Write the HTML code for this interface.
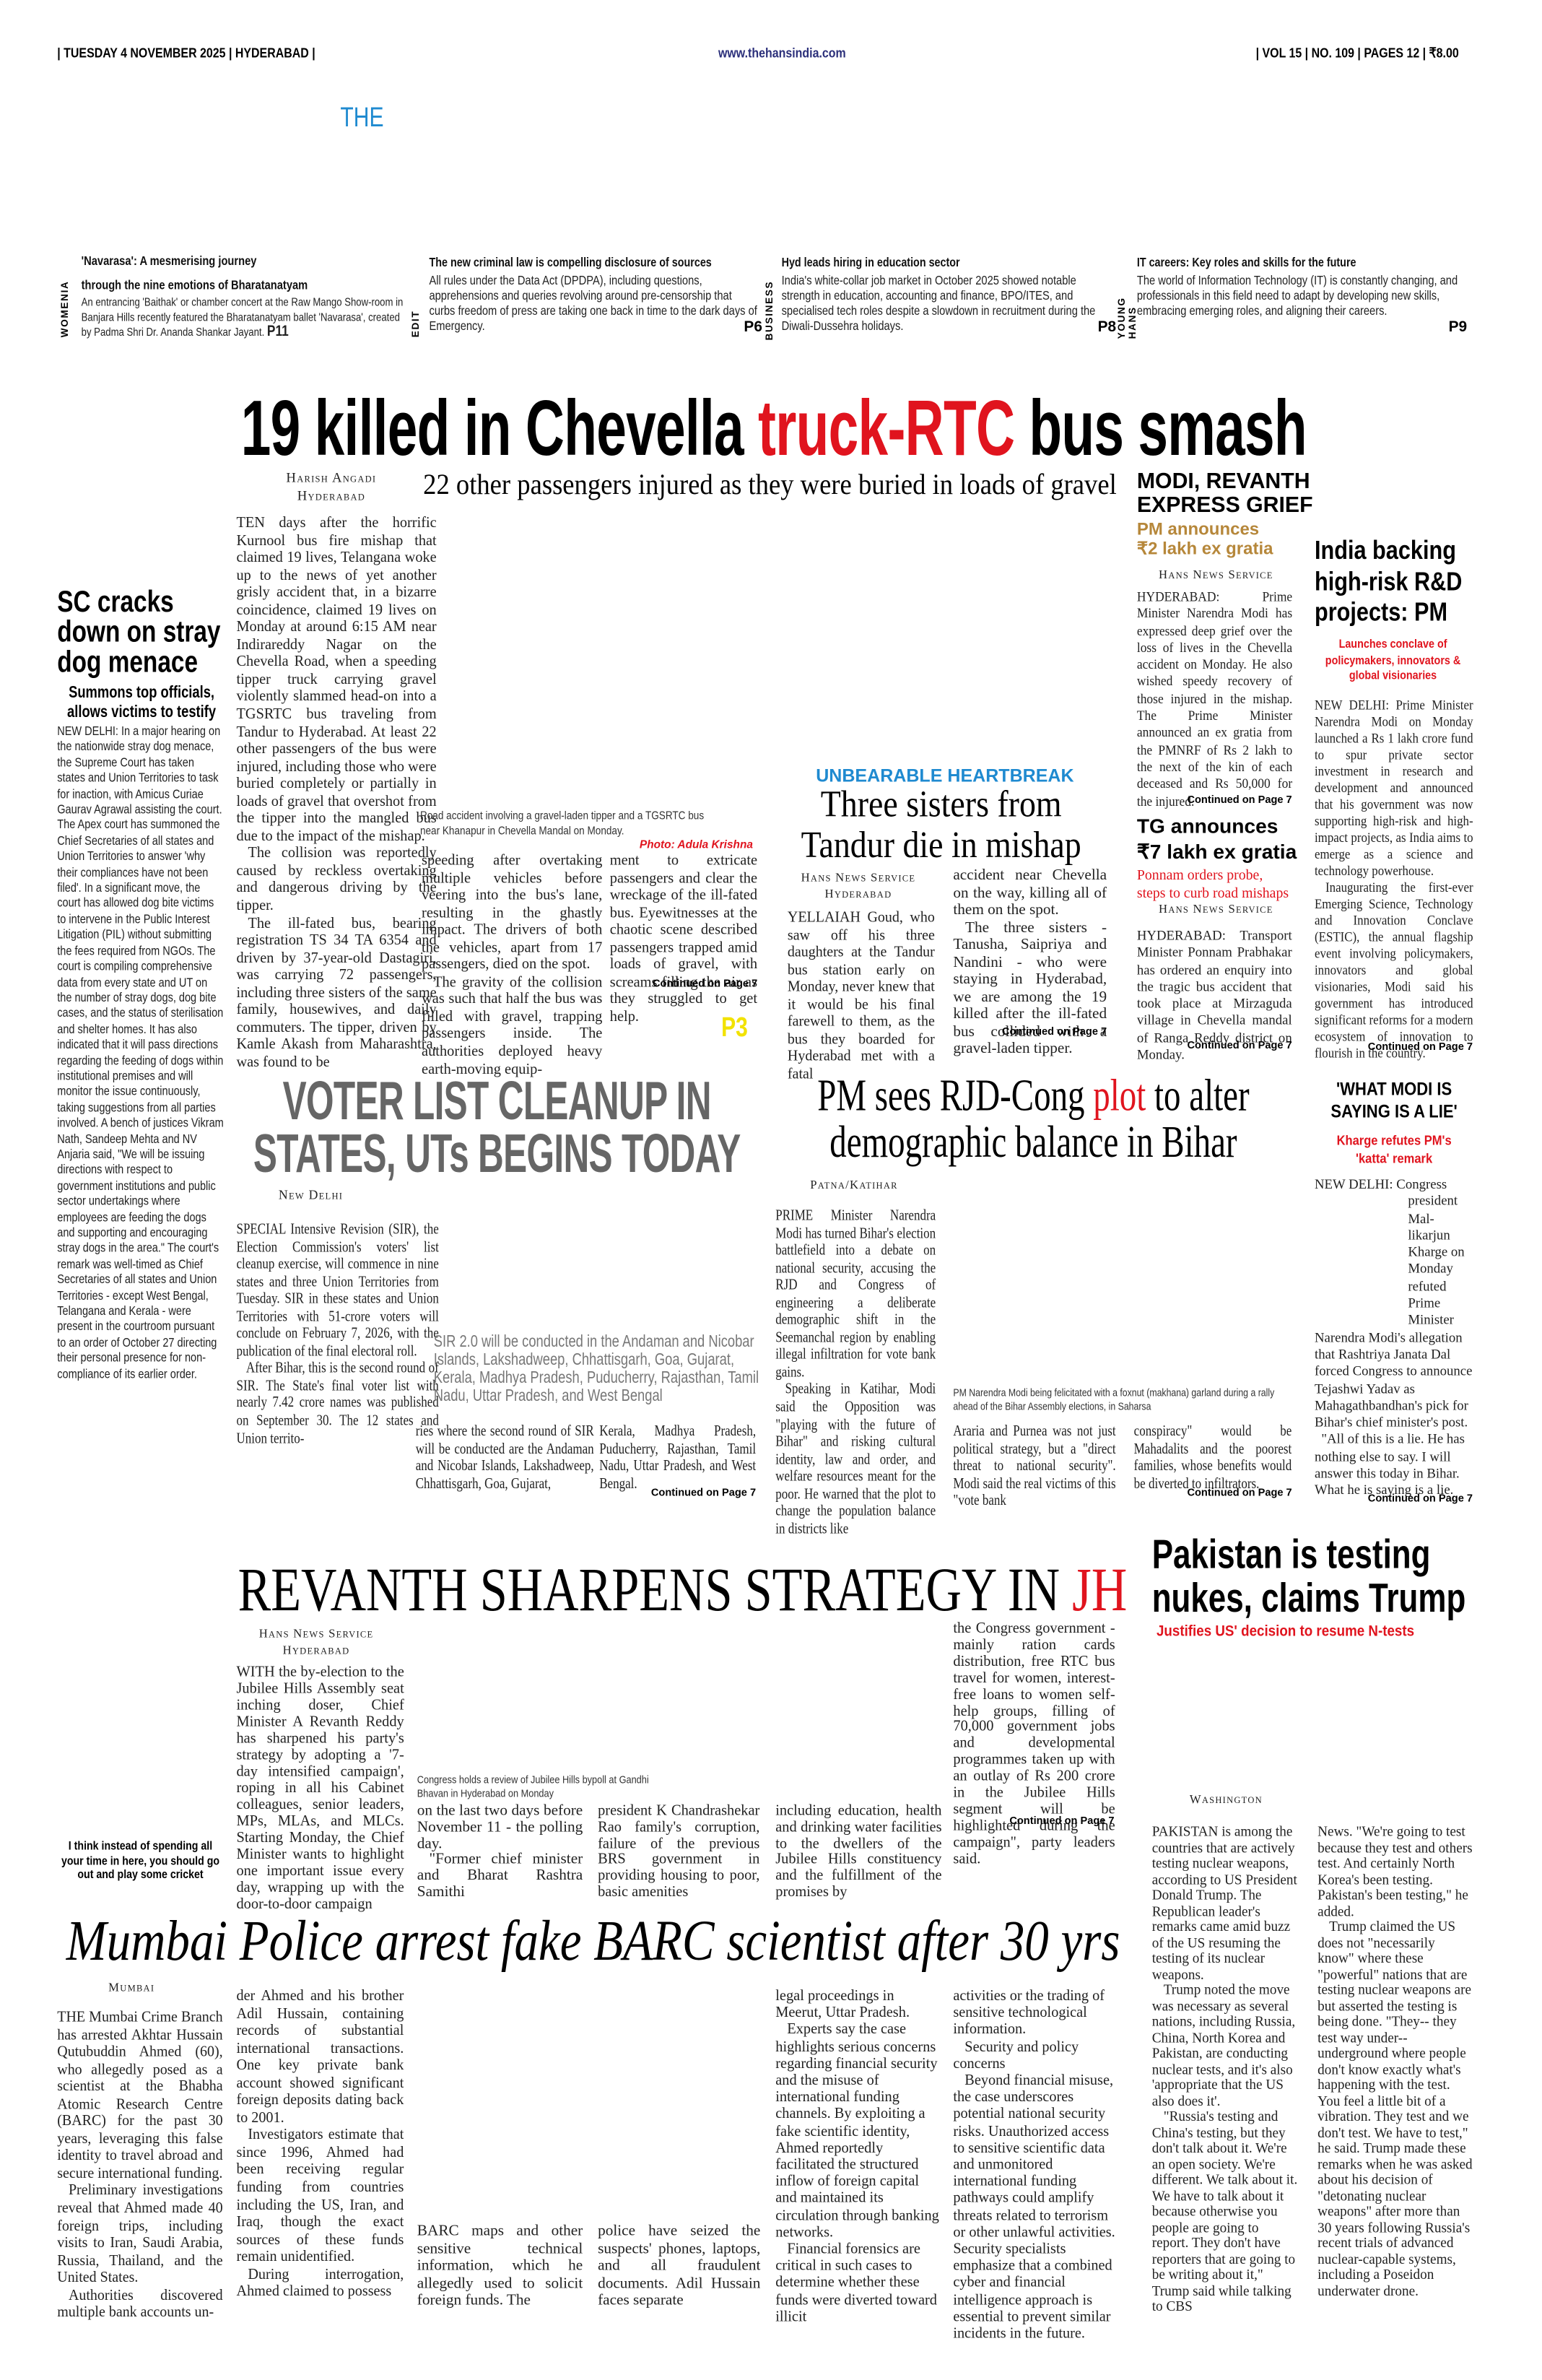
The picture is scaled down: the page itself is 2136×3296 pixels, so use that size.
<!DOCTYPE html>
<html><head><meta charset="utf-8">
<style>
html,body{margin:0;padding:0;background:#fff;}
body{width:2136px;height:3295px;overflow:hidden;position:relative;}
#w{position:absolute;left:0;top:0;width:1024px;height:1580px;transform:scale(2.0859);transform-origin:0 0;}
.a{position:absolute;margin:0;transform-origin:0 0;}
.s{font-family:"Liberation Serif",serif;font-size:10.2px;line-height:11.55px;text-align:justify;color:#222;}
.n{font-family:"Liberation Sans",sans-serif;}
.hn{font-family:"Liberation Sans",sans-serif;font-weight:bold;}
.sc{font-family:"Liberation Serif",serif;font-variant:small-caps;font-size:9px;letter-spacing:.6px;color:#222;text-align:center;}
.cont{font-family:"Liberation Sans",sans-serif;font-weight:bold;font-size:7px;text-align:right;}
.cap{font-family:"Liberation Sans",sans-serif;font-size:8px;line-height:9.5px;color:#333;}
.vt{position:absolute;writing-mode:vertical-rl;transform:rotate(180deg);font-family:"Liberation Sans",sans-serif;font-weight:bold;font-size:6.5px;letter-spacing:.8px;}
.tz{font-family:"Liberation Sans",sans-serif;font-size:8.4px;line-height:10px;color:#222;}
.tzh{font-family:"Liberation Sans",sans-serif;font-weight:bold;font-size:8.6px;line-height:13px;color:#111;}
p{margin:0}
.ind{text-indent:8px}
.r9{font-size:9px;line-height:11.3px;}
</style></head><body><div id="w">

<div class="a hn" style="left:38px;top:30px;font-size:9px;transform:scaleX(.85);">| TUESDAY 4 NOVEMBER 2025 | HYDERABAD |</div>
<div class="a hn" style="left:477px;top:30px;font-size:9px;color:#2b2f7a;transform:scaleX(.85);">www.thehansindia.com</div>
<div class="a hn" style="left:834px;top:30px;font-size:9px;transform:scaleX(.85);">| VOL 15 | NO. 109 | PAGES 12 | ₹8.00</div>
<div class="a n" style="left:226px;top:68px;font-size:18px;color:#1f8ad0;transform:scaleX(.8);">THE</div>

<!-- teasers -->
<div class="vt" style="left:40px;top:186px;height:38px;">WOMENIA</div>
<div class="a tzh" style="left:54px;top:165px;width:268px;line-height:16px;transform:scaleX(.82);">'Navarasa': A mesmerising journey<br>through the nine emotions of Bharatanatyam</div>
<div class="a tz" style="left:54px;top:196px;width:265px;font-size:7.6px;transform:scaleX(.83);">An entrancing 'Baithak' or chamber concert at the Raw Mango Show-room in Banjara Hills recently featured the Bharatanatyam ballet 'Navarasa', created by Padma Shri Dr. Ananda Shankar Jayant. <b style="font-size:10px">P11</b></div>
<div class="vt" style="left:273px;top:200px;height:24px;">EDIT</div>
<div class="a tzh" style="left:285px;top:168px;width:280px;transform:scaleX(.8);">The new criminal law is compelling disclosure of sources</div>
<div class="a tz" style="left:285px;top:181px;width:262px;transform:scaleX(.84);">All rules under the Data Act (DPDPA), including questions, apprehensions and queries revolving around pre-censorship that curbs freedom of press are taking one back in time to the dark days of Emergency.</div>
<div class="a hn" style="left:494px;top:212px;font-size:10px;">P6</div>
<div class="vt" style="left:508px;top:186px;height:40px;">BUSINESS</div>
<div class="a tzh" style="left:519px;top:168px;width:280px;transform:scaleX(.8);">Hyd leads hiring in education sector</div>
<div class="a tz" style="left:519px;top:181px;width:262px;transform:scaleX(.84);">India's white-collar job market in October 2025 showed notable strength in education, accounting and finance, BPO/ITES, and specialised tech roles despite a slowdown in recruitment during the Diwali-Dussehra holidays.</div>
<div class="a hn" style="left:729px;top:212px;font-size:10px;">P8</div>
<div class="vt" style="left:742px;top:175px;height:50px;">YOUNG HANS</div>
<div class="a tzh" style="left:755px;top:168px;width:280px;transform:scaleX(.8);">IT careers: Key roles and skills for the future</div>
<div class="a tz" style="left:755px;top:181px;width:264px;transform:scaleX(.84);">The world of Information Technology (IT) is constantly changing, and professionals in this field need to adapt by developing new skills, embracing emerging roles, and aligning their careers.</div>
<div class="a hn" style="left:962px;top:212px;font-size:10px;">P9</div>

<!-- main headline -->
<div class="a hn" style="left:160px;top:255px;font-size:52px;line-height:60px;white-space:nowrap;letter-spacing:-.5px;transform:scaleX(.69);">19 killed in Chevella <span style="color:#e0141e">truck-RTC</span> bus smash</div>
<div class="a sc" style="left:150px;top:311px;width:140px;line-height:12px;">Harish Angadi<br>Hyderabad</div>
<div class="a" style="left:281px;top:312px;font-size:19.5px;white-space:nowrap;font-family:'Liberation Serif',serif;transform:scaleX(.9);">22 other passengers injured as they were buried in loads of gravel</div>

<div class="a s" style="left:157px;top:342px;width:139px;transform:scaleX(.956);">
<p>TEN days after the horrific Kurnool bus fire mishap that claimed 19 lives, Telangana woke up to the news of yet another grisly accident that, in a bizarre coincidence, claimed 19 lives on Monday at around 6:15 AM near Indirareddy Nagar on the Chevella Road, when a speeding tipper truck carrying gravel violently slammed head-on into a TGSRTC bus traveling from Tandur to Hyderabad. At least 22 other passengers of the bus were injured, including those who were buried completely or partially in loads of gravel that overshot from the tipper into the mangled bus due to the impact of the mishap.</p>
<p class="ind">The collision was reportedly caused by reckless overtaking and dangerous driving by the tipper.</p>
<p class="ind">The ill-fated bus, bearing registration TS 34 TA 6354 and driven by 37-year-old Dastagiri, was carrying 72 passengers, including three sisters of the same family, housewives, and daily commuters. The tipper, driven by Kamle Akash from Maharashtra, was found to be</p></div>

<div class="a cap" style="left:279px;top:537px;width:228px;font-size:7.4px;transform:scaleX(.88);">Road accident involving a gravel-laden tipper and a TGSRTC bus near Khanapur in Chevella Mandal on Monday.</div>
<div class="a" style="left:400px;top:556px;width:100px;text-align:right;font-family:'Liberation Sans',sans-serif;font-weight:bold;font-style:italic;font-size:7.4px;color:#e0141e;">Photo: Adula Krishna</div>

<div class="a s" style="left:280px;top:566px;width:125px;transform:scaleX(.96);">speeding after overtaking multiple vehicles before veering into the bus's lane, resulting in the ghastly impact. The drivers of both the vehicles, apart from 17 passengers, died on the spot.<p class="ind">The gravity of the collision was such that half the bus was filled with gravel, trapping passengers inside. The authorities deployed heavy earth-moving equip-</p></div>
<div class="a s" style="left:405px;top:566px;width:102px;transform:scaleX(.96);">ment to extricate passengers and clear the wreckage of the ill-fated bus. Eyewitnesses at the chaotic scene described passengers trapped amid loads of gravel, with screams filling the air as they struggled to get help.</div>
<div class="a cont" style="left:403px;top:650px;width:100px;">Continued on Page 7</div>
<div class="a hn" style="left:479px;top:672px;font-size:18px;color:#f2e200;transform:scaleX(.8);">P3</div>

<!-- SC column -->
<div class="a hn" style="left:38px;top:390px;font-size:20px;line-height:20px;width:138px;transform:scaleX(.8);">SC cracks down on stray dog menace</div>
<div class="a hn" style="left:40px;top:454px;font-size:11px;line-height:12.5px;width:135px;text-align:center;transform:scaleX(.8);">Summons top officials, allows victims to testify</div>
<div class="a n" style="left:38px;top:481px;width:130px;font-size:8.2px;line-height:10.4px;color:#222;transform:scaleX(.85);">NEW DELHI: In a major hearing on the nationwide stray dog menace, the Supreme Court has taken states and Union Territories to task for inaction, with Amicus Curiae Gaurav Agrawal assisting the court. The Apex court has summoned the Chief Secretaries of all states and Union Territories to answer 'why their compliances have not been filed'. In a significant move, the court has allowed dog bite victims to intervene in the Public Interest Litigation (PIL) without submitting the fees required from NGOs. The court is compiling comprehensive data from every state and UT on the number of stray dogs, dog bite cases, and the status of sterilisation and shelter homes. It has also indicated that it will pass directions regarding the feeding of dogs within institutional premises and will monitor the issue continuously, taking suggestions from all parties involved. A bench of justices Vikram Nath, Sandeep Mehta and NV Anjaria said, "We will be issuing directions with respect to government institutions and public sector undertakings where employees are feeding the dogs and supporting and encouraging stray dogs in the area." The court's remark was well-timed as Chief Secretaries of all states and Union Territories - except West Bengal, Telangana and Kerala - were present in the courtroom pursuant to an order of October 27 directing their personal presence for non-compliance of its earlier order.</div>

<!-- Modi Revanth -->
<div class="a" style="left:755px;top:312px;font-family:'Liberation Sans',sans-serif;font-weight:bold;font-size:14.5px;line-height:16px;">MODI, REVANTH<br>EXPRESS GRIEF</div>
<div class="a" style="left:755px;top:346px;font-family:'Liberation Sans',sans-serif;font-weight:bold;font-size:11.5px;line-height:13px;color:#b6873a;">PM announces<br>₹2 lakh ex gratia</div>
<div class="a sc" style="left:755px;top:377px;width:105px;font-size:8px;">Hans News Service</div>
<div class="a s r9" style="left:755px;top:391px;width:111px;transform:scaleX(.93);">HYDERABAD: Prime Minister Narendra Modi has expressed deep grief over the loss of lives in the Chevella accident on Monday. He also wished speedy recovery of those injured in the mishap. The Prime Minister announced an ex gratia from the PMNRF of Rs 2 lakh to the next of the kin of each deceased and Rs 50,000 for the injured.</div>
<div class="a cont" style="left:755px;top:528px;width:103px;">Continued on Page 7</div>
<div class="a" style="left:755px;top:540px;font-family:'Liberation Sans',sans-serif;font-weight:bold;font-size:13.5px;line-height:17px;">TG announces<br>₹7 lakh ex gratia</div>
<div class="a" style="left:755px;top:577px;font-family:'Liberation Serif',serif;font-size:9.5px;line-height:11.5px;color:#e0141e;">Ponnam orders probe,<br>steps to curb road mishaps</div>
<div class="a sc" style="left:755px;top:599px;width:105px;font-size:8px;">Hans News Service</div>
<div class="a s r9" style="left:755px;top:616px;width:103px;">HYDERABAD: Transport Minister Ponnam Prabhakar has ordered an enquiry into the tragic bus accident that took place at Mirzaguda village in Chevella mandal of Ranga Reddy district on Monday.</div>
<div class="a cont" style="left:755px;top:691px;width:103px;">Continued on Page 7</div>

<!-- India backing -->
<div class="a" style="left:873px;top:355px;font-family:'Liberation Sans',sans-serif;font-weight:bold;font-size:17.5px;line-height:20.5px;width:128px;transform:scaleX(.84);">India backing high-risk R&amp;D projects: PM</div>
<div class="a" style="left:870px;top:423px;width:128px;text-align:center;font-family:'Liberation Sans',sans-serif;font-weight:bold;font-size:8px;line-height:10.5px;color:#e0141e;transform:scaleX(.86);">Launches conclave of policymakers, innovators &amp; global visionaries</div>
<div class="a s r9" style="left:873px;top:463px;width:117px;line-height:11px;transform:scaleX(.9);">NEW DELHI: Prime Minister Narendra Modi on Monday launched a Rs 1 lakh crore fund to spur private sector investment in research and development and announced that his government was now supporting high-risk and high-impact projects, as India aims to emerge as a science and technology powerhouse.<p class="ind">Inaugurating the first-ever Emerging Science, Technology and Innovation Conclave (ESTIC), the annual flagship event involving policymakers, innovators and global visionaries, Modi said his government has introduced significant reforms for a modern ecosystem of innovation to flourish in the country.</p></div>
<div class="a cont" style="left:873px;top:692px;width:105px;">Continued on Page 7</div>

<!-- Three sisters -->
<div class="a" style="left:520px;top:508px;width:215px;text-align:center;font-family:'Liberation Sans',sans-serif;font-weight:bold;font-size:12px;color:#1f8ad0;">UNBEARABLE HEARTBREAK</div>
<div class="a" style="left:515px;top:521px;width:250px;text-align:center;font-family:'Liberation Serif',serif;font-size:25px;line-height:27px;transform:scaleX(.88);">Three sisters from<br>Tandur die in mishap</div>
<div class="a sc" style="left:520px;top:577px;width:100px;font-size:8px;line-height:11px;">Hans News Service<br>Hyderabad</div>
<div class="a s" style="left:523px;top:604px;width:104px;transform:scaleX(.94);">YELLAIAH Goud, who saw off his three daughters at the Tandur bus station early on Monday, never knew that it would be his final farewell to them, as the bus they boarded for Hyderabad met with a fatal</div>
<div class="a s" style="left:633px;top:576px;width:102px;">accident near Chevella on the way, killing all of them on the spot.<p class="ind">The three sisters - Tanusha, Saipriya and Nandini - who were staying in Hyderabad, we are among the 19 killed after the ill-fated bus collided with a gravel-laden tipper.</p></div>
<div class="a cont" style="left:633px;top:682px;width:102px;">Continued on Page 7</div>

<!-- Voter list -->
<div class="a hn" style="left:160px;top:713px;width:515px;text-align:center;font-size:36px;line-height:35px;color:#666;transform:scaleX(.66);letter-spacing:-.5px;">VOTER LIST CLEANUP IN<br>STATES, UTs BEGINS TODAY</div>
<div class="a sc" style="left:185px;top:788px;font-size:8.5px;">New Delhi</div>
<div class="a s" style="left:157px;top:811px;width:168px;transform:scaleX(.8);"><p>SPECIAL Intensive Revision (SIR), the Election Commission's voters' list cleanup exercise, will commence in nine states and three Union Territories from Tuesday. SIR in these states and Union Territories with 51-crore voters will conclude on February 7, 2026, with the publication of the final electoral roll.</p><p class="ind">After Bihar, this is the second round of SIR. The State's final voter list with nearly 7.42 crore names was published on September 30. The 12 states and Union territo-</p></div>
<div class="a n" style="left:288px;top:885px;width:270px;font-size:11px;line-height:12px;color:#777;transform:scaleX(.8);">SIR 2.0 will be conducted in the Andaman and Nicobar Islands, Lakshadweep, Chhattisgarh, Goa, Gujarat, Kerala, Madhya Pradesh, Puducherry, Rajasthan, Tamil Nadu, Uttar Pradesh, and West Bengal</div>
<div class="a s" style="left:276px;top:945px;width:148px;transform:scaleX(.8);">ries where the second round of SIR will be conducted are the Andaman and Nicobar Islands, Lakshadweep, Chhattisgarh, Goa, Gujarat,</div>
<div class="a s" style="left:398px;top:945px;width:130px;transform:scaleX(.8);">Kerala, Madhya Pradesh, Puducherry, Rajasthan, Tamil Nadu, Uttar Pradesh, and West Bengal.</div>
<div class="a cont" style="left:398px;top:988px;width:104px;">Continued on Page 7</div>

<!-- PM sees -->
<div class="a" style="left:510px;top:712px;width:470px;text-align:center;font-family:'Liberation Serif',serif;font-size:30px;line-height:31px;transform:scaleX(.75);">PM sees RJD-Cong <span style="color:#e0141e">plot</span> to alter demographic balance in Bihar</div>
<div class="a sc" style="left:538px;top:782px;font-size:8px;">Patna/Katihar</div>
<div class="a s" style="left:515px;top:802px;width:133px;transform:scaleX(.8);"><p>PRIME Minister Narendra Modi has turned Bihar's election battlefield into a debate on national security, accusing the RJD and Congress of engineering a deliberate demographic shift in the Seemanchal region by enabling illegal infiltration for vote bank gains.</p><p class="ind">Speaking in Katihar, Modi said the Opposition was "playing with the future of Bihar" and risking cultural identity, law and order, and welfare resources meant for the poor. He warned that the plot to change the population balance in districts like</p></div>
<div class="a cap" style="left:633px;top:920px;width:272px;font-size:7.2px;line-height:9px;transform:scaleX(.82);">PM Narendra Modi being felicitated with a foxnut (makhana) garland during a rally ahead of the Bihar Assembly elections, in Saharsa</div>
<div class="a s" style="left:633px;top:945px;width:135px;transform:scaleX(.8);">Araria and Purnea was not just political strategy, but a "direct threat to national security". Modi said the real victims of this "vote bank</div>
<div class="a s" style="left:753px;top:945px;width:131px;transform:scaleX(.8);">conspiracy" would be Mahadalits and the poorest families, whose benefits would be diverted to infiltrators.</div>
<div class="a cont" style="left:753px;top:988px;width:105px;">Continued on Page 7</div>

<!-- What Modi -->
<div class="a" style="left:873px;top:716px;width:120px;text-align:center;font-family:'Liberation Sans',sans-serif;font-weight:bold;font-size:12px;line-height:15px;transform:scaleX(.88);">'WHAT MODI IS<br>SAYING IS A LIE'</div>
<div class="a" style="left:873px;top:752px;width:120px;text-align:center;font-family:'Liberation Sans',sans-serif;font-weight:bold;font-size:9px;line-height:11.5px;color:#e0141e;transform:scaleX(.88);">Kharge refutes PM's<br>'katta' remark</div>
<div class="a s r9" style="left:873px;top:781px;width:105px;text-align:left;">NEW DELHI: Congress<br><span style="padding-left:62px">president</span><br><span style="padding-left:62px">Mal-</span><br><span style="padding-left:62px">likarjun</span><br><span style="padding-left:62px">Kharge on</span><br><span style="padding-left:62px">Monday</span><br><span style="padding-left:62px">refuted</span><br><span style="padding-left:62px">Prime</span><br><span style="padding-left:62px">Minister</span><br>Narendra Modi's allegation that Rashtriya Janata Dal forced Congress to announce Tejashwi Yadav as Mahagathbandhan's pick for Bihar's chief minister's post.<br>&nbsp;&nbsp;"All of this is a lie. He has nothing else to say. I will answer this today in Bihar. What he is saying is a lie.</div>
<div class="a cont" style="left:873px;top:992px;width:105px;">Continued on Page 7</div>

<!-- Revanth -->
<div class="a" style="left:158px;top:1030px;font-family:'Liberation Serif',serif;font-size:41px;line-height:50px;white-space:nowrap;transform:scaleX(.8);">REVANTH SHARPENS STRATEGY IN <span style="color:#e0141e">JH</span></div>
<div class="a sc" style="left:160px;top:1079px;width:100px;font-size:8px;line-height:11px;">Hans News Service<br>Hyderabad</div>
<div class="a s" style="left:157px;top:1105px;width:116px;line-height:11px;transform:scaleX(.96);">WITH the by-election to the Jubilee Hills Assembly seat inching doser, Chief Minister A Revanth Reddy has sharpened his party's strategy by adopting a '7-day intensified campaign', roping in all his Cabinet colleagues, senior leaders, MPs, MLAs, and MLCs. Starting Monday, the Chief Minister wants to highlight one important issue every day, wrapping up with the door-to-door campaign</div>
<div class="a cap" style="left:277px;top:1177px;width:200px;font-size:7.2px;line-height:9px;transform:scaleX(.85);">Congress holds a review of Jubilee Hills bypoll at Gandhi Bhavan in Hyderabad on Monday</div>
<div class="a s" style="left:277px;top:1198px;width:110px;line-height:10.8px;">on the last two days before November 11 - the polling day.<p class="ind">"Former chief minister and Bharat Rashtra Samithi</p></div>
<div class="a s" style="left:397px;top:1198px;width:112px;line-height:10.8px;transform:scaleX(.96);">president K Chandrashekar Rao family's corruption, failure of the previous BRS government in providing housing to poor, basic amenities</div>
<div class="a s" style="left:515px;top:1198px;width:115px;line-height:10.8px;transform:scaleX(.96);">including education, health and drinking water facilities to the dwellers of the Jubilee Hills constituency and the fulfillment of the promises by</div>
<div class="a s" style="left:633px;top:1077px;width:112px;line-height:10.9px;transform:scaleX(.96);">the Congress government - mainly ration cards distribution, free RTC bus travel for women, interest-free loans to women self-help groups, filling of 70,000 government jobs and developmental programmes taken up with an outlay of Rs 200 crore in the Jubilee Hills segment will be highlighted during the campaign", party leaders said.</div>
<div class="a cont" style="left:633px;top:1206px;width:107px;">Continued on Page 7</div>
<div class="a hn" style="left:38px;top:1221px;width:130px;text-align:center;font-size:8px;line-height:9.5px;transform:scaleX(.85);">I think instead of spending all your time in here, you should go out and play some cricket</div>

<!-- Pakistan -->
<div class="a hn" style="left:765px;top:1018px;font-size:27px;line-height:29px;width:275px;transform:scaleX(.78);">Pakistan is testing nukes, claims Trump</div>
<div class="a" style="left:768px;top:1078px;font-family:'Liberation Sans',sans-serif;font-weight:bold;font-size:10px;color:#e0141e;transform:scaleX(.9);">Justifies US' decision to resume N-tests</div>
<div class="a sc" style="left:790px;top:1190px;font-size:8px;">Washington</div>
<div class="a s" style="left:765px;top:1212px;width:101px;text-align:left;font-size:9.6px;line-height:10.5px;transform:scaleX(.96);">PAKISTAN is among the countries that are actively testing nuclear weapons, according to US President Donald Trump. The Republican leader's remarks came amid buzz of the US resuming the testing of its nuclear weapons.<p class="ind">Trump noted the move was necessary as several nations, including Russia, China, North Korea and Pakistan, are conducting nuclear tests, and it's also 'appropriate that the US also does it'.</p><p class="ind">"Russia's testing and China's testing, but they don't talk about it. We're an open society. We're different. We talk about it. We have to talk about it because otherwise you people are going to report. They don't have reporters that are going to be writing about it," Trump said while talking to CBS</p></div>
<div class="a s" style="left:875px;top:1212px;width:108px;text-align:left;font-size:9.6px;line-height:10.5px;transform:scaleX(.96);">News. "We're going to test because they test and others test. And certainly North Korea's been testing. Pakistan's been testing," he added.<p class="ind">Trump claimed the US does not "necessarily know" where these "powerful" nations that are testing nuclear weapons are but asserted the testing is being done. "They-- they test way under-- underground where people don't know exactly what's happening with the test. You feel a little bit of a vibration. They test and we don't test. We have to test," he said. Trump made these remarks when he was asked about his decision of "detonating nuclear weapons" after more than 30 years following Russia's recent trials of advanced nuclear-capable systems, including a Poseidon underwater drone.</p></div>

<!-- Mumbai -->
<div class="a" style="left:44px;top:1266px;font-family:'Liberation Serif',serif;font-style:italic;font-size:38px;line-height:46px;white-space:nowrap;transform:scaleX(.845);">Mumbai Police arrest fake BARC scientist after 30 yrs</div>
<div class="a sc" style="left:72px;top:1315px;font-size:8px;">Mumbai</div>
<div class="a s" style="left:38px;top:1334px;width:117px;transform:scaleX(.94);">THE Mumbai Crime Branch has arrested Akhtar Hussain Qutubuddin Ahmed (60), who allegedly posed as a scientist at the Bhabha Atomic Research Centre (BARC) for the past 30 years, leveraging this false identity to travel abroad and secure international funding.<p class="ind">Preliminary investigations reveal that Ahmed made 40 foreign trips, including visits to Iran, Saudi Arabia, Russia, Thailand, and the United States.</p><p class="ind">Authorities discovered multiple bank accounts un-</p></div>
<div class="a s" style="left:157px;top:1320px;width:117px;transform:scaleX(.95);">der Ahmed and his brother Adil Hussain, containing records of substantial international transactions. One key private bank account showed significant foreign deposits dating back to 2001.<p class="ind">Investigators estimate that since 1996, Ahmed had been receiving regular funding from countries including the US, Iran, and Iraq, though the exact sources of these funds remain unidentified.</p><p class="ind">During interrogation, Ahmed claimed to possess</p></div>
<div class="a s" style="left:277px;top:1476px;width:110px;">BARC maps and other sensitive technical information, which he allegedly used to solicit foreign funds. The</div>
<div class="a s" style="left:397px;top:1476px;width:108px;">police have seized the suspects' phones, laptops, and all fraudulent documents. Adil Hussain faces separate</div>
<div class="a s" style="left:515px;top:1320px;width:114px;text-align:left;line-height:11.2px;transform:scaleX(.96);">legal proceedings in Meerut, Uttar Pradesh.<p class="ind">Experts say the case highlights serious concerns regarding financial security and the misuse of international funding channels. By exploiting a fake scientific identity, Ahmed reportedly facilitated the structured inflow of foreign capital and maintained its circulation through banking networks.</p><p class="ind">Financial forensics are critical in such cases to determine whether these funds were diverted toward illicit</p></div>
<div class="a s" style="left:633px;top:1320px;width:113px;text-align:left;line-height:11.2px;transform:scaleX(.955);">activities or the trading of sensitive technological information.<p class="ind">Security and policy concerns</p><p class="ind">Beyond financial misuse, the case underscores potential national security risks. Unauthorized access to sensitive scientific data and unmonitored international funding pathways could amplify threats related to terrorism or other unlawful activities. Security specialists emphasize that a combined cyber and financial intelligence approach is essential to prevent similar incidents in the future.</p></div>

</div></body></html>
